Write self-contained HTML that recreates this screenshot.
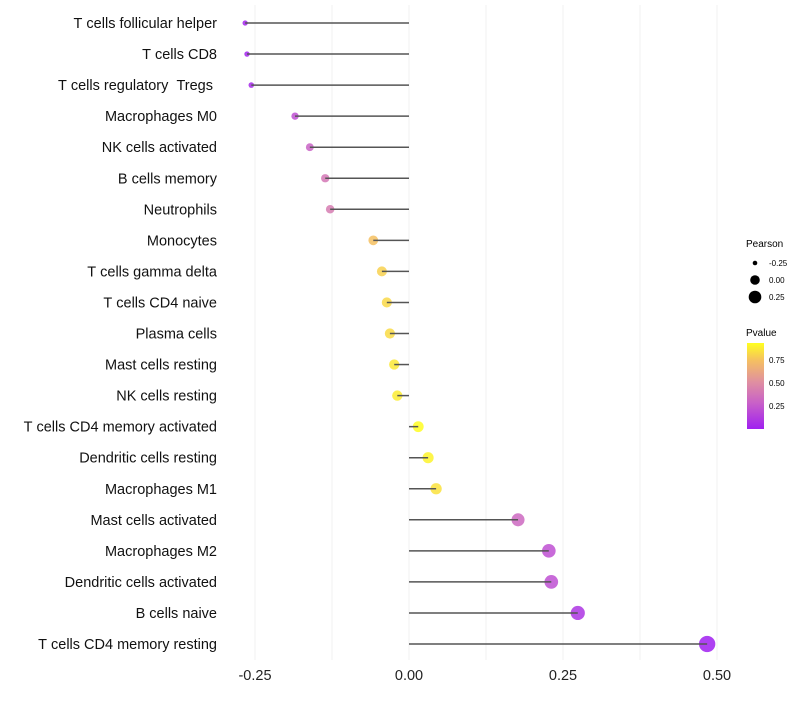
<!DOCTYPE html>
<html><head><meta charset="utf-8"><style>
body{margin:0;background:#fff;font-family:"Liberation Sans",sans-serif}
</style></head><body>
<svg id="chart" width="800" height="700" xmlns="http://www.w3.org/2000/svg" font-family="Liberation Sans, sans-serif">
<defs><linearGradient id="pg" x1="0" y1="1" x2="0" y2="0">
<stop offset="0" stop-color="#a020f0"/><stop offset="0.3" stop-color="#c860c8"/><stop offset="0.55" stop-color="#e090a0"/><stop offset="0.8" stop-color="#f5c060"/><stop offset="1" stop-color="#ffff20"/></linearGradient></defs>
<g id="grid"></g>
<g id="marks"></g>
<g id="ylabels"></g>
<g id="xlabels"></g>
<g font-size="10">
<text x="746" y="247" fill="#000">Pearson</text>
<circle cx="755" cy="263" r="2.3" fill="#000"/><text x="769" y="266" font-size="8">-0.25</text>
<circle cx="755" cy="280" r="4.8" fill="#000"/><text x="769" y="283" font-size="8">0.00</text>
<circle cx="755" cy="297" r="6.3" fill="#000"/><text x="769" y="300" font-size="8">0.25</text>
</g>
<g font-size="10">
<text x="746" y="336" fill="#000">Pvalue</text>
<rect x="747" y="343" width="17" height="86" fill="url(#pg)"/>
<text x="769" y="363" font-size="8">0.75</text>
<text x="769" y="386" font-size="8">0.50</text>
<text x="769" y="409" font-size="8">0.25</text>
</g>
</svg>
<script>
const categories=["T cells follicular helper","T cells CD8","T cells regulatory  Tregs ","Macrophages M0","NK cells activated","B cells memory","Neutrophils","Monocytes","T cells gamma delta","T cells CD4 naive","Plasma cells","Mast cells resting","NK cells resting","T cells CD4 memory activated","Dendritic cells resting","Macrophages M1","Mast cells activated","Macrophages M2","Dendritic cells activated","B cells naive","T cells CD4 memory resting"];
const pearson=[-0.266,-0.263,-0.256,-0.185,-0.161,-0.136,-0.128,-0.058,-0.044,-0.036,-0.031,-0.024,-0.019,0.015,0.031,0.044,0.177,0.227,0.231,0.274,0.484];
const pvalue=[0.03,0.03,0.05,0.22,0.3,0.4,0.42,0.75,0.8,0.82,0.83,0.87,0.88,0.93,0.9,0.85,0.33,0.22,0.22,0.1,0.01];
const xTicks=[-0.25,0,0.25,0.5];
const xTickLabels=["-0.25","0.00","0.25","0.50"];
const NS="http://www.w3.org/2000/svg";
const x=v=>409+v*616;
const y=i=>23+i*31.05;
const rr=v=>Math.sqrt(Math.max(1,7+80*(v+0.266)));
const stops=[[0,[160,32,240]],[0.3,[200,96,200]],[0.55,[224,144,160]],[0.8,[245,192,96]],[1,[255,255,32]]];
function col(p){let t=Math.min(1,Math.max(0,(p-0.01)/0.925));for(let k=1;k<stops.length;k++){if(t<=stops[k][0]){const a=stops[k-1],b=stops[k];const f=(t-a[0])/(b[0]-a[0]);return "rgb("+a[1].map((c,j)=>Math.round(c+(b[1][j]-c)*f)).join(",")+")";}}return "rgb(255,255,32)";}
function mk(t,at,p){const e=document.createElementNS(NS,t);for(const k in at)e.setAttribute(k,at[k]);p.appendChild(e);return e;}
const grid=document.getElementById('grid'),marks=document.getElementById('marks'),yl=document.getElementById('ylabels'),xl=document.getElementById('xlabels');
for(let v=-0.25;v<=0.5001;v+=0.125){const l=mk('line',{x1:x(v),x2:x(v),y1:5,y2:660,stroke:'#f0f0f0','stroke-width':1},grid);

}
xTicks.forEach((v,i)=>{const t=mk('text',{x:x(v),y:680,'text-anchor':'middle','font-size':14.5,fill:'#222'},xl);t.textContent=xTickLabels[i];

});
categories.forEach((c,i)=>{
const t=mk('text',{x:217,y:y(i)+5,'text-anchor':'end','font-size':14.5,fill:'#111'},yl);t.textContent=c.replace(/ /g,'\u00a0');


const pt=mk('circle',{cx:x(pearson[i]),cy:y(i),r:rr(pearson[i]),fill:col(pvalue[i]),'fill-opacity':0.85},marks);


const s=mk('line',{x1:x(0),x2:x(pearson[i]),y1:y(i),y2:y(i),stroke:'#555','stroke-width':1.5},marks);


});
</script>
</body></html>
